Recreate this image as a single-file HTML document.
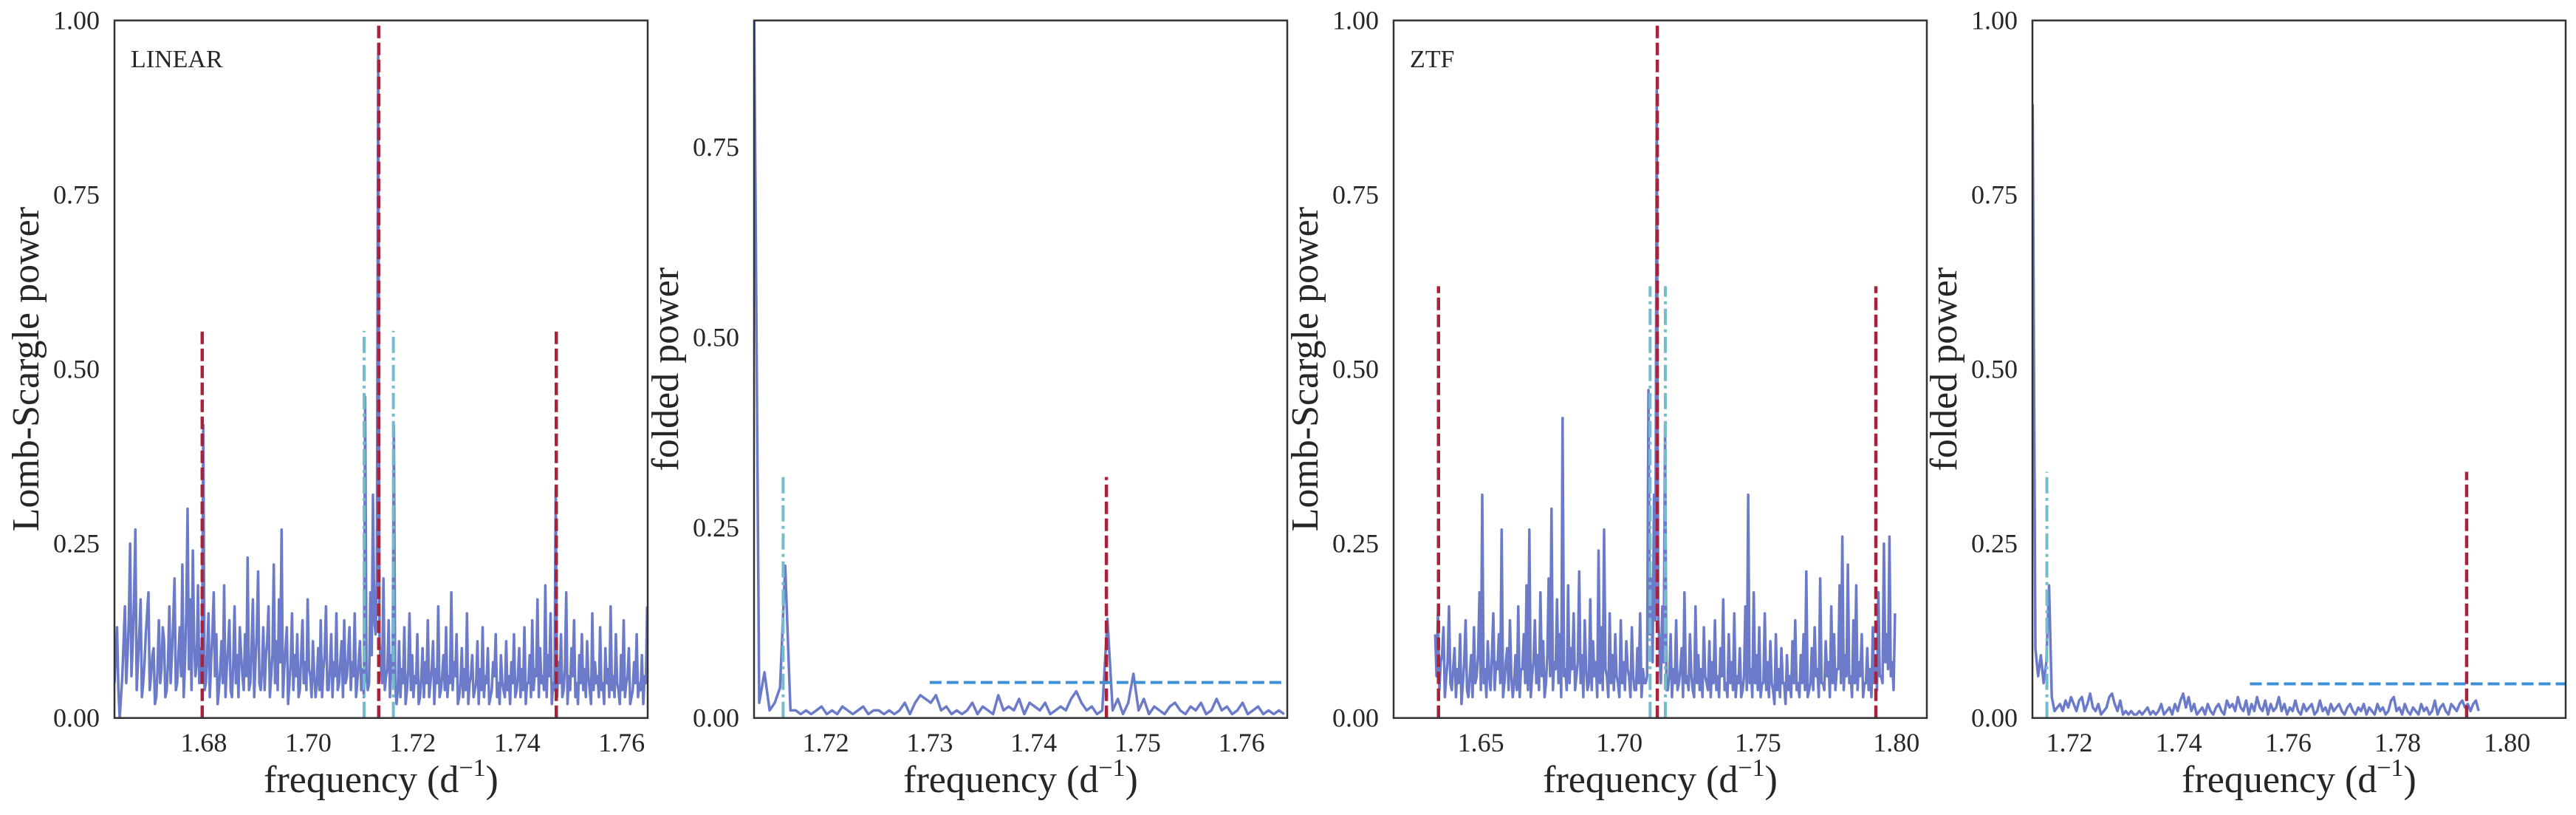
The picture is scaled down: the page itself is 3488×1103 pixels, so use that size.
<!DOCTYPE html>
<html><head><meta charset="utf-8">
<style>
html,body{margin:0;padding:0;background:#fff;}
svg{display:block;font-family:"Liberation Serif",serif;}
</style></head>
<body>
<svg id="fig" width="3488" height="1103" viewBox="0 0 3488 1103" xmlns="http://www.w3.org/2000/svg"></svg>
<script>
// ---- data ----
const p1Start = 1.6629, p1Step = 0.0005;
const p1Power = [
.05,.13,.00,.06,.16,.09,.25,.11,.27,.08,
.17,.05,.12,.18,.06,.10,.03,.14,.07,.11,
.04,.16,.09,.20,.05,.13,.22,.08,.30,.17,
.24,.06,.19,.10,.42,.05,.15,.08,.18,.12,
.04,.11,.19,.07,.14,.03,.16,.09,.13,.06,
.12,.23,.05,.17,.08,.21,.04,.13,.09,.16,
.06,.22,.11,.17,.27,.07,.13,.05,.15,.09,
.12,.04,.14,.08,.17,.06,.11,.03,.10,.14,
.07,.16,.04,.12,.08,.15,.05,.11,.14,.06,
.13,.08,.15,.05,.11,.07,.46,.04,.18,.32,
.12,.95,.08,.20,.06,.14,.09,.42,.02,.11,
.07,.13,.04,.15,.09,.06,.12,.03,.10,.08,
.14,.05,.11,.07,.16,.04,.09,.13,.06,.18,
.08,.12,.03,.10,.07,.15,.05,.09,.04,.11,
.07,.13,.06,.10,.03,.08,.12,.05,.09,.04,
.11,.06,.08,.12,.04,.10,.07,.13,.05,.09,
.14,.07,.17,.10,.06,.19,.09,.15,.05,.33,
.08,.12,.04,.18,.06,.10,.14,.05,.09,.12,
.07,.11,.04,.15,.08,.06,.13,.05,.10,.07,
.16,.06,.12,.04,.09,.14,.05,.10,.03,.08,
.12,.05,.09,.06,.16];
// values at half-step frequencies between p1Power samples
const p1Mid = [
.09,.04,.03,.11,.05,.14,.06,.17,.04,.12,
.03,.08,.15,.04,.09,.02,.07,.05,.13,.03,
.08,.05,.14,.04,.09,.06,.03,.15,.07,.04,
.11,.08,.05,.06,.04,.09,.03,.12,.06,.02,
.07,.05,.03,.10,.04,.08,.05,.03,.09,.04,
.06,.04,.10,.03,.12,.05,.07,.04,.11,.03,
.09,.05,.04,.08,.03,.10,.02,.08,.04,.06,
.03,.09,.05,.04,.07,.03,.06,.05,.04,.03,
.09,.04,.07,.03,.06,.04,.08,.03,.05,.09,
.04,.06,.03,.08,.04,.03,.06,.05,.09,.14,
.20,.11,.05,.04,.07,.03,.06,.05,.04,.03,
.05,.02,.07,.04,.03,.05,.02,.06,.03,.05,
.03,.07,.02,.05,.03,.06,.04,.03,.05,.04,
.06,.02,.05,.03,.04,.02,.06,.03,.05,.02,
.04,.03,.05,.02,.04,.06,.03,.02,.05,.03,
.04,.02,.05,.03,.06,.03,.04,.02,.05,.03,
.04,.06,.03,.05,.04,.03,.06,.02,.04,.03,
.05,.03,.07,.02,.04,.06,.03,.02,.05,.04,
.03,.06,.02,.04,.05,.03,.04,.02,.05,.03,
.04,.03,.05,.02,.04,.03,.06,.02,.04,.05,
.03,.04,.02,.05];

const p2Start = 1.7131, p2Step = 0.0005;
const p2Power = [
.95,.02,.06,.01,.02,.04,.20,.01,.01,.005,
.01,.005,.01,.015,.005,.01,.005,.015,.01,.005,
.01,.015,.005,.01,.01,.005,.01,.005,.01,.02,
.005,.02,.03,.025,.02,.03,.01,.015,.005,.01,
.005,.01,.02,.005,.015,.01,.005,.03,.01,.015,
.01,.025,.005,.02,.015,.01,.02,.005,.01,.015,
.01,.025,.035,.02,.01,.015,.005,.01,.13,.01,
.025,.005,.02,.058,.01,.025,.005,.015,.01,.005,
.015,.02,.01,.005,.015,.01,.02,.005,.01,.025,
.01,.015,.005,.01,.02,.005,.01,.015,.005,.01,
.005,.01,.005];

const p3Start = 1.6335, p3Step = 0.001;
const p3Power = [
.12,.15,.08,.13,.06,.16,.04,.10,.07,.12,
.05,.14,.03,.09,.13,.06,.18,.32,.07,.11,
.04,.15,.08,.12,.27,.05,.10,.14,.03,.09,
.16,.07,.12,.19,.27,.06,.14,.09,.18,.11,
.05,.20,.30,.08,.17,.12,.43,.07,.19,.10,
.15,.06,.21,.09,.14,.04,.17,.11,.08,.24,
.13,.27,.06,.15,.09,.12,.05,.14,.08,.11,
.06,.13,.04,.10,.15,.07,.05,.47,.20,.32,
.90,.10,.16,.42,.04,.12,.07,.14,.05,.10,
.18,.06,.12,.04,.16,.09,.07,.13,.05,.11,
.08,.14,.06,.10,.17,.05,.12,.08,.15,.06,
.10,.04,.16,.32,.07,.18,.09,.13,.05,.15,
.08,.11,.04,.12,.07,.10,.05,.09,.06,.11,
.14,.05,.09,.12,.21,.04,.10,.13,.07,.20,
.05,.11,.08,.16,.12,.07,.19,.26,.09,.22,
.06,.14,.19,.08,.12,.05,.10,.07,.13,.09,
.18,.06,.25,.12,.26,.08,.15];
// values at half-step frequencies between p3Power samples
const p3Mid = [
.06,.04,.09,.03,.08,.05,.07,.03,.05,.02,
.08,.04,.06,.03,.05,.09,.04,.05,.03,.06,
.09,.04,.07,.05,.03,.08,.04,.06,.05,.04,
.03,.07,.05,.04,.03,.08,.05,.04,.06,.03,
.09,.06,.04,.07,.05,.03,.06,.04,.05,.07,
.04,.08,.05,.03,.07,.05,.04,.06,.03,.05,
.04,.07,.03,.05,.04,.06,.03,.05,.04,.07,
.03,.06,.04,.05,.03,.05,.06,.12,.08,.14,
.15,.05,.08,.04,.06,.03,.05,.04,.07,.03,
.05,.04,.06,.03,.05,.04,.03,.06,.04,.03,
.05,.04,.03,.06,.04,.03,.05,.04,.03,.05,
.03,.06,.04,.05,.03,.05,.04,.03,.05,.04,
.03,.05,.02,.04,.03,.05,.02,.04,.03,.05,
.04,.03,.05,.04,.03,.05,.04,.06,.03,.05,
.04,.06,.03,.05,.04,.07,.05,.04,.06,.05,
.03,.05,.04,.06,.03,.05,.04,.03,.05,.04,
.06,.05,.08,.07,.06,.04];

const p4Start = 1.7133, p4Step = 0.0005;
const p4Power = [
.88,.10,.06,.09,.05,.08,.19,.03,.01,.015,
.02,.01,.025,.015,.03,.02,.01,.025,.03,.01,
.02,.035,.015,.01,.02,.005,.01,.015,.03,.035,
.02,.01,.025,.005,.01,.005,.01,.005,.005,.01,
.005,.01,.015,.005,.01,.005,.01,.02,.005,.01,
.015,.005,.02,.01,.025,.035,.015,.03,.01,.02,
.005,.01,.015,.005,.02,.01,.005,.015,.02,.01,
.005,.025,.015,.02,.01,.03,.015,.01,.025,.005,
.02,.01,.03,.015,.01,.025,.005,.02,.01,.015,
.03,.01,.02,.005,.015,.01,.025,.01,.005,.02,
.01,.015,.02,.005,.01,.025,.01,.015,.005,.02,
.01,.015,.02,.01,.005,.015,.02,.01,.005,.015,
.01,.02,.005,.015,.01,.005,.02,.01,.015,.005,
.01,.025,.03,.01,.015,.005,.02,.01,.005,.015,
.01,.005,.02,.01,.015,.005,.01,.025,.005,.015,
.02,.01,.005,.02,.015,.01,.02,.025,.015,.02,
.01,.02,.025,.01];

const xTicks1 = [1.68,1.70,1.72,1.74,1.76];
const xTicks2 = [1.72,1.73,1.74,1.75,1.76];
const xTicks3 = [1.65,1.70,1.75,1.80];
const xTicks4 = [1.72,1.74,1.76,1.78,1.80];
const yTicks = [0,0.25,0.5,0.75,1.0];
const yTickLabels = ["0.00","0.25","0.50","0.75","1.00"];

const redLines1 = [1.6797,1.7475], redMain1 = 1.7135, cyanLines1 = [1.7107,1.7163];
const redLines3 = [1.6347,1.7926], redMain3 = 1.7137, cyanLines3 = [1.7111,1.7166];
const red2 = 1.7470, cyan2 = 1.7159, thr2 = 0.0466, thrStart2 = 1.7300;
const red4 = 1.7926, cyan4 = 1.7159, thr4 = 0.049, thrStart4 = 1.7530;

// ---- drawing ----
const NS = "http://www.w3.org/2000/svg";
const svg = document.getElementById('fig');
const TOP = 27.7, H = 944, W = 722;
const LINE = "#6b7bc9", RED = "#a8233a", CYAN = "#72bccb", BLUE = "#3d8fd6";

function el(tag, attrs, parent){
  const e = document.createElementNS(NS, tag);
  for (const k in attrs) e.setAttribute(k, attrs[k]);
  (parent||svg).appendChild(e);
  return e;
}

function series(start, step, values, mid){
  const pts = [];
  values.forEach((v, i) => {
    pts.push([start + i * step, v]);
    if (mid && i < mid.length && i < values.length - 1) pts.push([start + (i + 0.5) * step, mid[i]]);
  });
  return pts;
}

function panel(opts){
  const g = el('g', {});
  
  
  const L = opts.left;
  const sx = v => L + (v - opts.xmin) / (opts.xmax - opts.xmin) * W;
  const sy = v => TOP + H - v / opts.ymax * H;
  const cid = 'clip-' + opts.name;
  const cp = el('clipPath', {id: cid}, g);
  el('rect', {x: L, y: TOP, width: W, height: H}, cp);
  const plot = el('g', {'clip-path': 'url(#' + cid + ')'}, g);

  let d = '';
  series(opts.start, opts.step, opts.values, opts.mid).forEach((p, i) => {
    d += (i ? 'L' : 'M') + sx(p[0]).toFixed(1) + ',' + sy(p[1]).toFixed(1);
  });
  const path = el('path', {d: d, fill: 'none', stroke: LINE, 'stroke-width': 3.5, 'stroke-linejoin': 'round'}, plot);
  
  

  (opts.reds || []).forEach(r => {
    const ln = el('line', {x1: sx(r.f), x2: sx(r.f), y1: sy(0), y2: sy(r.top), stroke: RED, 'stroke-width': 4.5, 'stroke-dasharray': '17,6'}, plot);
    
    
  });
  (opts.cyans || []).forEach(r => {
    const ln = el('line', {x1: sx(r.f), x2: sx(r.f), y1: sy(0), y2: sy(r.top), stroke: CYAN, 'stroke-width': 4, 'stroke-dasharray': '22,6,4,6'}, plot);
    
    
  });
  if (opts.thr) {
    const ln = el('line', {x1: sx(opts.thr.from), x2: L + W, y1: sy(opts.thr.y), y2: sy(opts.thr.y), stroke: BLUE, 'stroke-width': 4, 'stroke-dasharray': '16,7'}, plot);
    
    
  }

  const fr = el('rect', {x: L, y: TOP, width: W, height: H, fill: 'none', stroke: '#333', 'stroke-width': 2.5}, g);
  
  

  yTicks.forEach((t, i) => {
    if (t > opts.ymax + 1e-9) return;
    const tx = el('text', {x: L - 20, y: sy(t) + 12, 'text-anchor': 'end', 'font-size': 36, fill: '#262626'}, g);
    tx.textContent = yTickLabels[i];
    
    
  });
  opts.xticks.forEach(t => {
    const tx = el('text', {x: sx(t), y: 1017, 'text-anchor': 'middle', 'font-size': 36, fill: '#262626'}, g);
    tx.textContent = t.toFixed(2);
    
    
  });
  const xt = el('text', {x: L + W / 2, y: 1072, 'text-anchor': 'middle', 'font-size': 52, fill: '#262626'}, g);
  
  
  xt.appendChild(document.createTextNode('frequency (d'));
  const sup = el('tspan', {'font-size': 34, dy: -22}, xt);
  sup.textContent = '\u22121';
  const cl = el('tspan', {dy: 22}, xt);
  cl.textContent = ')';
  const yt = el('text', {x: 0, y: 0, 'text-anchor': 'middle', 'font-size': 52, fill: '#262626', transform: 'translate(' + (opts.left - 103) + ',' + (TOP + H / 2) + ') rotate(-90)'}, g);
  yt.textContent = opts.ylabel;
  
  
  if (opts.tag) {
    const tg = el('text', {x: L + 22, y: 91, 'font-size': 34, fill: '#262626'}, g);
    tg.textContent = opts.tag;
    
    
  }
}

panel({name: 'linear-periodogram', left: 155, xmin: 1.6629, xmax: 1.7650, ymax: 1.0,
  start: p1Start, step: p1Step, values: p1Power, mid: p1Mid, xticks: xTicks1, ylabel: 'Lomb-Scargle power', tag: 'LINEAR',
  reds: redLines1.map(f => ({f: f, top: 0.555})).concat([{f: redMain1, top: 1.0}]),
  cyans: cyanLines1.map(f => ({f: f, top: 0.555}))});
panel({name: 'linear-folded', left: 1021, xmin: 1.7131, xmax: 1.7644, ymax: 0.916,
  start: p2Start, step: p2Step, values: p2Power, xticks: xTicks2, ylabel: 'folded power',
  reds: [{f: red2, top: 0.3165}], cyans: [{f: cyan2, top: 0.3165}], thr: {from: thrStart2, y: thr2}});
panel({name: 'ztf-periodogram', left: 1887, xmin: 1.6185, xmax: 1.8110, ymax: 1.0,
  start: p3Start, step: p3Step, values: p3Power, mid: p3Mid, xticks: xTicks3, ylabel: 'Lomb-Scargle power', tag: 'ZTF',
  reds: redLines3.map(f => ({f: f, top: 0.619})).concat([{f: redMain3, top: 1.0}]),
  cyans: cyanLines3.map(f => ({f: f, top: 0.619}))});
panel({name: 'ztf-folded', left: 2752, xmin: 1.71326, xmax: 1.8107, ymax: 1.0,
  start: p4Start, step: p4Step, values: p4Power, xticks: xTicks4, ylabel: 'folded power',
  reds: [{f: red4, top: 0.353}], cyans: [{f: cyan4, top: 0.353}], thr: {from: thrStart4, y: thr4}});
</script>
</body></html>
